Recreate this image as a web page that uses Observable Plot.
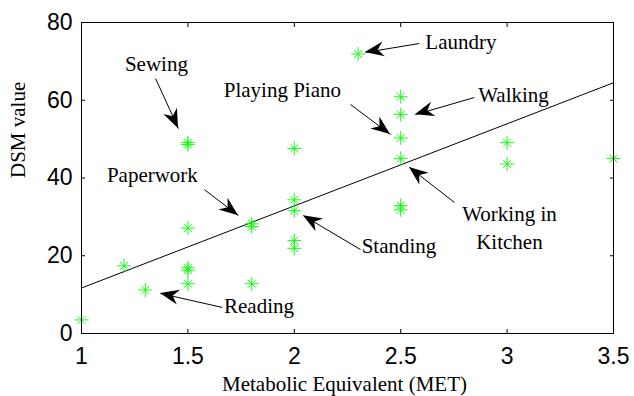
<!DOCTYPE html>
<html>
<head>
<meta charset="utf-8">
<script src="https://cdn.jsdelivr.net/npm/d3@7"></script>
<script src="https://cdn.jsdelivr.net/npm/@observablehq/plot@0.6"></script>
<style>
  html, body { margin: 0; padding: 0; background: white; }
</style>
</head>
<body>
<div id="chart"></div>
<script>
// Metabolic Equivalent (MET) and DSM value of each observation
const met = [1, 1.2, 1.3, 1.5, 1.5, 1.5, 1.5, 1.5, 1.5, 1.8, 1.8, 1.8, 2, 2, 2, 2, 2, 2.3, 2.5, 2.5, 2.5, 2.5, 2.5, 2.5, 3, 3, 3.5];
const dsm = [3.5, 17.4, 11.2, 49.1, 48.6, 27.1, 16.9, 16.3, 12.8, 28.2, 27.5, 12.8, 47.6, 34.4, 31.6, 23.9, 21.9, 71.9, 60.9, 56.3, 50.3, 45.0, 32.9, 31.8, 49.1, 43.6, 45.0];

// fitted line end points
const fitX = [1, 3.5];
const fitY = [11.7, 64.5];

// tick values
const xTicks = [1, 1.5, 2, 2.5, 3, 3.5];
const yTicks = [0, 20, 40, 60, 80];

// annotations: label, label position (baseline), arrow start, arrow tip (data units)
const labels = ["Sewing", "Playing Piano", "Laundry", "Walking", "Working in\nKitchen", "Standing", "Paperwork", "Reading"];
const labelX = [1.352, 1.944, 2.783, 3.030, 3.011, 2.492, 1.333, 1.834];
const labelY = [67.5, 60.8, 73.2, 59.5, 21.8, 20.6, 38.9, 5.2];
const arrowFromX = [1.348, 2.264, 2.588, 2.846, 2.753, 2.311, 1.578, 1.662];
const arrowFromY = [65.6, 58.9, 74.6, 60.7, 33.7, 21.6, 37.0, 6.7];
const arrowToX = [1.456, 2.452, 2.334, 2.569, 2.541, 2.043, 1.738, 1.371];
const arrowToY = [52.7, 51.2, 72.3, 56.3, 42.7, 30.3, 30.3, 10.3];

const points = met.map((m, i) => ({met: m, dsm: dsm[i]}));
const fit = fitX.map((x, i) => ({x, y: fitY[i]}));
const notes = labels.map((label, i) => ({
  label, lx: labelX[i], ly: labelY[i],
  ax: arrowFromX[i], ay: arrowFromY[i], tx: arrowToX[i], ty: arrowToY[i]
}));

const serif = "'Liberation Serif', 'Times New Roman', serif";
const sans = "'Liberation Sans', Arial, sans-serif";

// filled arrow heads drawn through the plot's scales
function arrowHeads(index, scales) {
  const g = d3.create("svg:g");
  const L = 19, W = 7.5, N = 13;
  for (const a of notes) {
    const x1 = scales.x(a.ax), y1 = scales.y(a.ay);
    const x2 = scales.x(a.tx), y2 = scales.y(a.ty);
    const dx = x2 - x1, dy = y2 - y1, len = Math.hypot(dx, dy);
    const ux = dx / len, uy = dy / len, px = -uy, py = ux;
    const bx = x2 - ux * L, by = y2 - uy * L;
    const nx = x2 - ux * N, ny = y2 - uy * N;
    g.append("path")
      .attr("d", `M${x2},${y2}L${bx + px * W},${by + py * W}L${nx},${ny}L${bx - px * W},${by - py * W}Z`)
      .attr("fill", "black");
  }
  return g.node();
}

const chart = Plot.plot({
  width: 634,
  height: 396,
  marginLeft: 81,
  marginRight: 21,
  marginTop: 22,
  marginBottom: 63,
  style: {background: "white", overflow: "visible"},
  x: {domain: [1, 3.5]},
  y: {domain: [0, 80]},
  marks: [
    Plot.line(fit, {x: "x", y: "y", stroke: "black", strokeWidth: 1}),
    Plot.dot(points, {x: "met", y: "dsm", symbol: "plus", r: 4.6, stroke: "#00ff00", strokeWidth: 0.9}),
    Plot.dot(points, {x: "met", y: "dsm", symbol: "times", r: 3.7, stroke: "#00ff00", strokeWidth: 0.9}),
    Plot.link(notes, {x1: "ax", y1: "ay", x2: "tx", y2: "ty", stroke: "black", strokeWidth: 1}),
    arrowHeads,
    Plot.text(notes, {x: "lx", y: "ly", text: "label", lineAnchor: "bottom", lineHeight: 1.32,
      fontFamily: serif, fontSize: 21, fill: "black", letterSpacing: "1.3px"}),
    Plot.frame({stroke: "black", strokeWidth: 1}),
    Plot.axisX(xTicks, {anchor: "bottom", tickSize: -4, tickPadding: 18, fontSize: 23,
      fontFamily: sans, label: null, tickFormat: d => String(d)}),
    Plot.axisX(xTicks, {anchor: "top", tickSize: -4, label: null, tickFormat: () => ""}),
    Plot.axisY(yTicks, {anchor: "left", tickSize: -4, tickPadding: 13, fontSize: 23,
      fontFamily: sans, label: null, tickFormat: d => String(d)}),
    Plot.axisY(yTicks, {anchor: "right", tickSize: -4, label: null, tickFormat: () => ""}),
    Plot.text(["Metabolic Equivalent (MET)"], {frameAnchor: "bottom", dx: -3, dy: 57, lineAnchor: "bottom",
      fontFamily: serif, fontSize: 21, fill: "black", letterSpacing: "1.3px"}),
    Plot.text(["DSM value"], {frameAnchor: "left", dx: -57, rotate: -90, lineAnchor: "bottom",
      fontFamily: serif, fontSize: 21, fill: "black", letterSpacing: "1.3px"})
  ]
});

document.getElementById("chart").append(chart);
</script>
</body>
</html>
